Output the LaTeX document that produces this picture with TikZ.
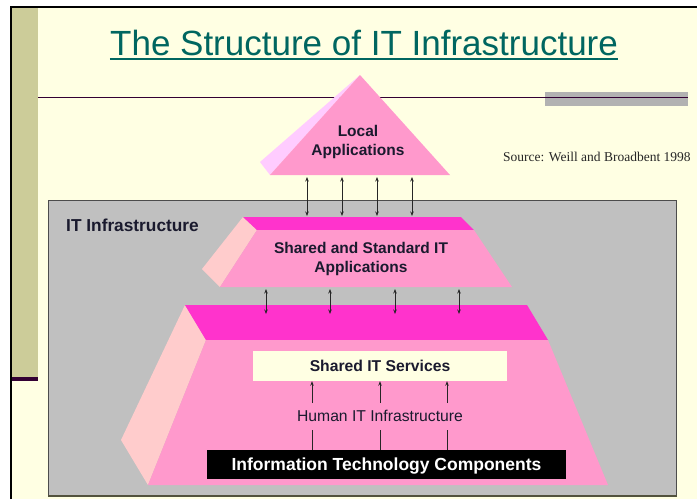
\documentclass[tikz,border=0pt]{standalone}
\usepackage{fontspec}
\setmainfont{Liberation Sans}
\newfontfamily\srcfont{Liberation Serif}
\usetikzlibrary{arrows.meta}
\definecolor{cream}{HTML}{FFFFE3}
\definecolor{olive}{HTML}{CCCC99}
\definecolor{darkpurple}{HTML}{330033}
\definecolor{titleteal}{HTML}{006660}
\definecolor{boxgray}{HTML}{C0C0C0}
\definecolor{bargray}{HTML}{B2B2B2}
\definecolor{pinkbody}{HTML}{FF99CC}
\definecolor{pinkband}{HTML}{FF33CC}
\definecolor{peach}{HTML}{FFCCCC}
\definecolor{lavender}{HTML}{FFCCFF}
\definecolor{inktext}{HTML}{1A1A2E}
\tikzset{
  dblarrow/.style={draw=black!85, line width=0.8pt, {Stealth[length=4.5pt,width=3.5pt]}-{Stealth[length=4.5pt,width=3.5pt]}},
  uparrow/.style={draw=black!85, line width=0.8pt, -{Stealth[length=4.5pt,width=3.5pt]}},
  plainline/.style={draw=black!85, line width=0.8pt},
  boldlabel/.style={font=\bfseries\fontsize{15.5}{19}\selectfont, text=inktext, align=center, inner sep=0pt},
}
\begin{document}
\begin{tikzpicture}[x=1pt,y=-1pt]
\useasboundingbox (0,0) rectangle (697,499);
% background
\fill[white] (0,0) rectangle (697,499);
\fill[cream] (11,7) rectangle (697,499);
\fill[olive] (12,8) rectangle (38,377);
\fill[darkpurple] (12,377) rectangle (38,381);
\draw[black, line width=2pt] (11,499) -- (11,7) -- (697,7);
% title
\node[font=\fontsize{35}{40}\selectfont, text=titleteal, anchor=base, inner sep=0pt] (title) at (364,55) {The Structure of IT Infrastructure};
\draw[titleteal, line width=2.6pt] ([yshift=-4pt]title.base west) -- ([yshift=-4pt]title.base east);
% rule and gray bar
\fill[bargray] (545,92) rectangle (688,106);
\draw[darkpurple, line width=1pt] (38,97) -- (688,97);
% source
\node[font=\srcfont\fontsize{13.5}{16}\selectfont, text=black!85, anchor=base west, inner sep=0pt] (source) at (503,161.5) {Source: Weill and Broadbent 1998};
% gray IT infrastructure box
\fill[boxgray] (48,200) rectangle (676,496);
\draw[black!70, line width=1pt] (48,496) -- (48,200) -- (676,200) -- (676,496);
\draw[black!60!olive, line width=2pt] (48,496) -- (677,496);
\node[font=\bfseries\fontsize{17.3}{20}\selectfont, text=inktext, anchor=west, inner sep=0pt] (itinfra) at (66,225) {IT Infrastructure};
% top triangle
\fill[lavender] (360,75) -- (260,162) -- (270,175) -- cycle;
\fill[pinkbody] (360,75) -- (450,175) -- (270,175) -- cycle;
\node[boldlabel] (local) at (358,142) {Local\\Applications};
% middle trapezoid
\fill[peach] (243,217) -- (202,269) -- (220,287) -- (257,230) -- cycle;
\fill[pinkband] (243,217) -- (461,217) -- (474,230) -- (257,230) -- cycle;
\fill[pinkbody] (257,230) -- (474,230) -- (512,287) -- (220,287) -- cycle;
\node[boldlabel] (sharedstd) at (361,259) {Shared and Standard IT\\Applications};
% bottom trapezoid
\fill[peach] (185,305) -- (121,440) -- (148,485) -- (206,340) -- cycle;
\fill[pinkband] (185,305) -- (527,305) -- (548,340) -- (206,340) -- cycle;
\fill[pinkbody] (206,340) -- (548,340) -- (608,485) -- (148,485) -- cycle;
\node[fill=cream, minimum width=254pt, minimum height=30pt, inner sep=0pt, text height=11.2pt, text depth=0pt, font=\bfseries\fontsize{15.7}{19}\selectfont, text=inktext] (services) at (380,366) {Shared IT Services};
\node[font=\fontsize{15.7}{19}\selectfont, text=inktext, inner sep=0pt, text height=11.2pt, text depth=0pt] (human) at (380,416) {Human IT Infrastructure};
\node[fill=black, minimum width=359pt, minimum height=29pt, inner sep=0pt, text height=12.5pt, text depth=0pt, font=\bfseries\fontsize{17.5}{20}\selectfont, text=white] (itc) at (386.5,464.5) {Information Technology Components};
% arrows: triangle <-> middle trapezoid
\foreach \x [count=\i] in {307,342,377,412} {
  \coordinate (ta\i) at (\x,177);
  \coordinate (tb\i) at (\x,216);
  \draw[dblarrow] (ta\i) -- (tb\i);
}
% arrows: middle <-> bottom trapezoid
\foreach \x [count=\i] in {266,330,395,459} {
  \coordinate (ma\i) at (\x,289);
  \coordinate (mb\i) at (\x,314);
  \draw[dblarrow] (ma\i) -- (mb\i);
}
% arrows: human infrastructure -> services, components -- human
\foreach \x [count=\i] in {312,380,447} {
  \coordinate (ha\i) at (\x,403);
  \coordinate (hb\i) at (\x,430);
  \draw[uparrow] (ha\i) -- (services.south -| ha\i);
  \draw[plainline] (hb\i) -- (itc.north -| hb\i);
}
\end{tikzpicture}
\end{document}
